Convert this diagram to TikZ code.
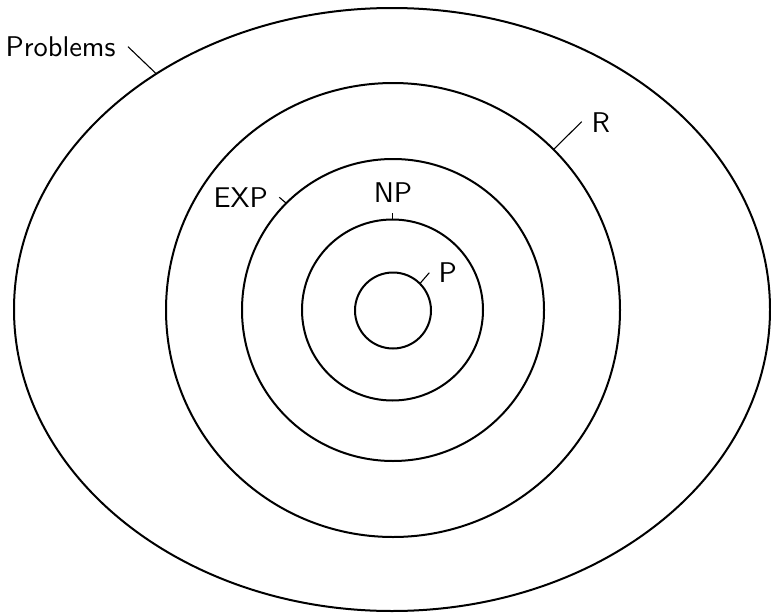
\documentclass[tikz,border=0pt]{standalone}
\usetikzlibrary{shapes.geometric}
\begin{document}
\begin{tikzpicture}[x=1pt,y=-1pt,
  set/.style={draw, line width=2pt, inner sep=0pt, outer sep=0pt},
  ring/.style={set, circle, minimum size=#1},
  leader/.style={line width=1.1pt},
  lbl/.style={inner sep=0pt, font=\sffamily\fontsize{10}{12}\selectfont, scale=2.85}]
\useasboundingbox (0,0) rectangle (771,613);
\node[set, ellipse, minimum width=756pt, minimum height=603pt] (problems) at (392,309.5) {};
\node[ring=454pt] (R) at (393,310) {};
\node[ring=302pt] (EXP) at (393,310) {};
\node[ring=181pt] (NP) at (392.5,310) {};
\node[ring=76pt] (P) at (393,310.5) {};
\node[lbl, anchor=base west] (tprob) at (5,56) {Problems};
\node[lbl, anchor=base west] (tR) at (591,132) {R};
\node[lbl, anchor=base west] (tEXP) at (213,207.7) {EXP};
\node[lbl, anchor=base] (tNP) at (393,202.3) {NP};
\node[lbl, anchor=base west] (tP) at (438,282.7) {P};
\coordinate (eprob) at (128,46.7);
\coordinate (eR) at (581.7,121.7);
\coordinate (eEXP) at (279.3,197.3);
\coordinate (eNP) at (392.5,212.7);
\coordinate (eP) at (429.3,272.7);
\draw[leader] (problems.135) -- (eprob);
\draw[leader] (R.45) -- (eR);
\draw[leader] (EXP.135) -- (eEXP);
\draw[leader] (NP.90) -- (eNP);
\draw[leader] (P.45) -- (eP);
\end{tikzpicture}
\end{document}
